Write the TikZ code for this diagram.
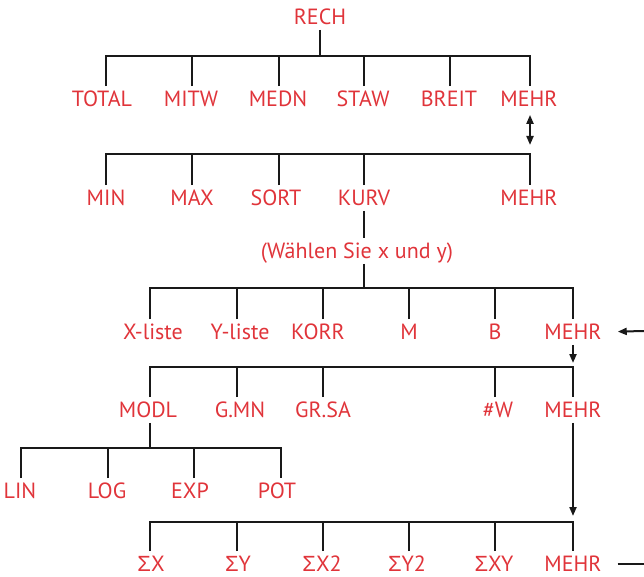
\documentclass[tikz,border=0pt]{standalone}
\usepackage{fontspec}
\setmainfont{PT Sans}
\newfontfamily\sig{Liberation Sans}
\usetikzlibrary{arrows.meta}
\definecolor{lblred}{RGB}{224,52,58}
\tikzset{
  lbl/.style={text=lblred, font=\fontsize{22}{24}\selectfont, inner xsep=0pt, inner ysep=5pt, text height=15.4pt, text depth=0pt},
  lblb/.style={lbl, inner ysep=0pt},
  ln/.style={line width=2pt, black!90},
  arr/.style={ln, -{Triangle[length=9pt,width=7pt]}},
  darr/.style={ln, {Triangle[length=9pt,width=7pt]}-{Triangle[length=9pt,width=7pt]}}
}
\begin{document}
\begin{tikzpicture}[x=1pt,y=-1pt]
\useasboundingbox (0,0) rectangle (644,577);
% bar levels
\coordinate (b1) at (0,56);
\coordinate (b2) at (0,154);
\coordinate (b3) at (0,288);
\coordinate (b4) at (0,367);
\coordinate (b5) at (0,448);
\coordinate (b6) at (0,522);
\coordinate (inR) at (644,331);
\coordinate (outR) at (644,564);
% row 0
\node[lbl] (rech) at (320,17) {RECH};
% row 1
\node[lbl] (total) at (102,99) {TOTAL};
\node[lbl] (mitw) at (191,99) {MITW};
\node[lbl] (medn) at (278,99) {MEDN};
\node[lbl] (staw) at (363,99) {STAW};
\node[lbl] (breit) at (449,99) {BREIT};
\node[lbl] (mehra) at (529,99) {MEHR};
% row 2
\node[lbl] (min) at (106,198) {MIN};
\node[lbl] (max) at (192,198) {MAX};
\node[lbl] (sort) at (276,198) {SORT};
\node[lbl] (kurv) at (364,198) {KURV};
\node[lbl] (mehrb) at (529,198) {MEHR};
\node[lbl] (wahl) at (357,251) {(Wählen Sie x und y)};
% row 3
\node[lbl] (xl) at (153,332) {X-liste};
\node[lbl] (yl) at (240,332) {Y-liste};
\node[lbl] (korr) at (318,332) {KORR};
\node[lbl] (m) at (409,332) {M};
\node[lbl] (b) at (495,332) {B};
\node[lbl] (mehrc) at (573,332) {MEHR};
% row 4
\node[lbl] (modl) at (148,410) {MODL};
\node[lbl] (gmn) at (240,410) {G.MN};
\node[lbl] (grsa) at (323,410) {GR.SA};
\node[lbl] (w) at (498,410) {\#W};
\node[lbl] (mehrd) at (573,410) {MEHR};
% row 5
\node[lbl] (lin) at (20,491) {LIN};
\node[lbl] (log) at (107,491) {LOG};
\node[lbl] (exp) at (190,491) {EXP};
\node[lbl] (pot) at (277,491) {POT};
% row 6
\node[lblb] (sx) at (151,564) {{\sig Σ}X};
\node[lblb] (sy) at (238,564) {{\sig Σ}Y};
\node[lblb] (sx2) at (322,564) {{\sig Σ}X2};
\node[lblb] (sy2) at (407,564) {{\sig Σ}Y2};
\node[lblb] (sxy) at (494,564) {{\sig Σ}XY};
\node[lblb] (mehre) at (573,564) {MEHR};

% tree 1
\draw[ln] (rech.south) -- (rech.south |- b1);
\draw[ln] ([xshift=4pt]total.north) |- ([xshift=1pt]mehra.north |- b1) -- ([xshift=1pt]mehra.north);
\foreach \n/\s in {mitw/1pt,medn/1pt,staw/1pt,breit/1pt}
  \draw[ln] ([xshift=\s]\n.north) -- ([xshift=\s]\n.north |- b1);
% double arrow
\draw[darr, shorten <=3pt, shorten >=9pt] ([xshift=1pt]mehra.south) -- ([xshift=1pt]mehra.south |- b2);
% tree 2
\draw[ln] (min.north) |- ([xshift=1pt]mehrb.north |- b2) -- ([xshift=1pt]mehrb.north);
\foreach \n/\s in {max/0pt,sort/3pt,kurv/0pt}
  \draw[ln] ([xshift=\s]\n.north) -- ([xshift=\s]\n.north |- b2);
% kurv to wahl
\draw[ln] (kurv.south) -- (kurv.south |- wahl.north);
\draw[ln] (kurv.south |- wahl.south) -- (kurv.south |- b3);
% tree 3
\draw[ln] ([xshift=-3pt]xl.north) |- (mehrc.north |- b3) -- (mehrc.north);
\foreach \n/\s in {yl/-3pt,korr/5pt,m/0pt,b/0pt}
  \draw[ln] ([xshift=\s]\n.north) -- ([xshift=\s]\n.north |- b3);
\draw[arr, shorten >=16pt] (inR) -- (mehrc.east);
\draw[arr, shorten >=4pt] (mehrc.south) -- (mehrc.south |- b4);
% tree 4
\draw[ln] ([xshift=2pt]modl.north) |- (mehrd.north |- b4) -- (mehrd.north);
\foreach \n/\s in {gmn/-3pt,grsa/0pt,w/-3pt}
  \draw[ln] ([xshift=\s]\n.north) -- ([xshift=\s]\n.north |- b4);
% modl subtree
\draw[ln] ([xshift=2pt]modl.south) -- ([xshift=2pt]modl.south |- b5);
\draw[ln] ([xshift=1pt]lin.north) |- ([xshift=4pt]pot.north |- b5) -- ([xshift=4pt]pot.north);
\foreach \n/\s in {log/1pt,exp/4pt}
  \draw[ln] ([xshift=\s]\n.north) -- ([xshift=\s]\n.north |- b5);
% mehr down to bottom
\draw[arr, shorten >=6pt] (mehrd.south) -- (mehrd.south |- b6);
% tree 6
\draw[ln] ([xshift=-1pt,yshift=5pt]sx.north) |- (mehre.north |- b6) -- ([yshift=5pt]mehre.north);
\foreach \n/\s in {sy/-1pt,sx2/1pt,sy2/2pt,sxy/1pt}
  \draw[ln] ([xshift=\s,yshift=5pt]\n.north) -- ([xshift=\s]\n.north |- b6);
\draw[ln, shorten <=16pt] (mehre.east) -- (outR);
\end{tikzpicture}
\end{document}
